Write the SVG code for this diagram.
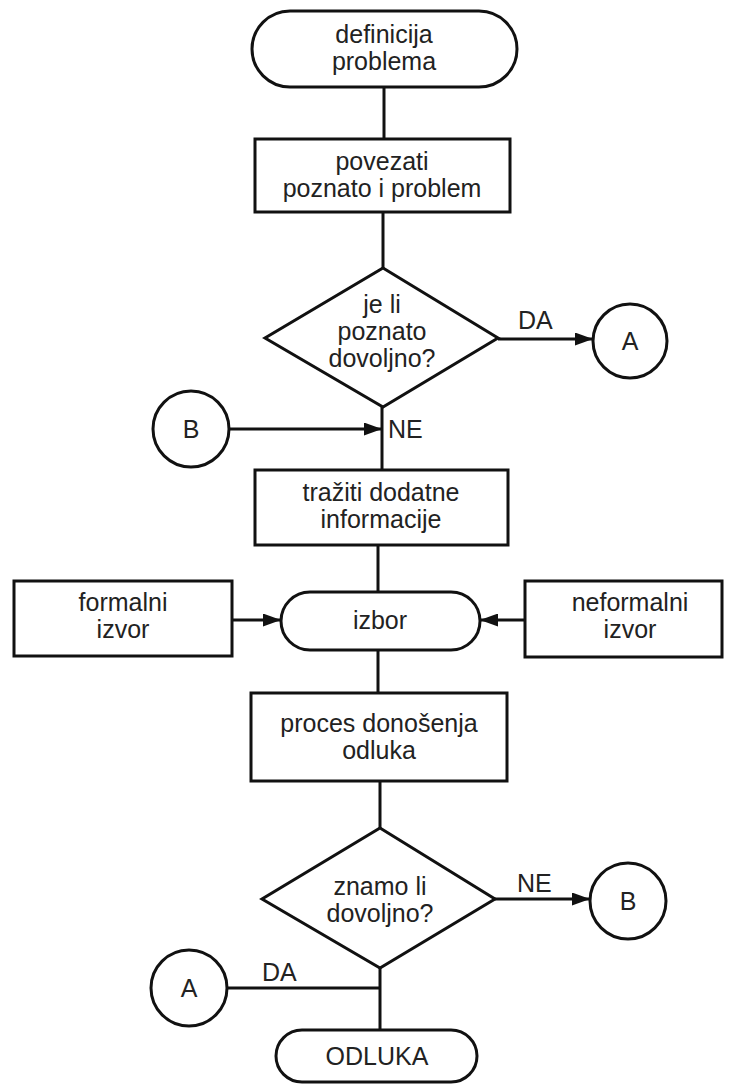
<svg xmlns="http://www.w3.org/2000/svg" width="731" height="1086" viewBox="0 0 731 1086">
<style>
.s{fill:#fff;stroke:#111;stroke-width:3}
.c{fill:none;stroke:#111;stroke-width:3}
text{font-family:"Liberation Sans",Arial,sans-serif;font-size:25px;fill:#222;text-anchor:middle}
.l{text-anchor:start}
</style>
<defs>
<marker id="ar" viewBox="0 0 18 13" refX="18" refY="6.5" markerWidth="18" markerHeight="13" markerUnits="userSpaceOnUse" orient="auto">
<path d="M0,0 L18,6.5 L0,13 Z" fill="#111"/>
</marker>
</defs>
<rect width="731" height="1086" fill="#fff"/>
<g id="connectors">
<line class="c" x1="384" y1="87" x2="384" y2="139"/>
<line class="c" x1="383" y1="212" x2="383" y2="268"/>
<line class="c" x1="498" y1="339" x2="593" y2="339" marker-end="url(#ar)"/>
<line class="c" x1="382" y1="407" x2="382" y2="470"/>
<line class="c" x1="229" y1="429" x2="382" y2="429" marker-end="url(#ar)"/>
<line class="c" x1="378" y1="545" x2="378" y2="592"/>
<line class="c" x1="232" y1="620" x2="281" y2="620" marker-end="url(#ar)"/>
<line class="c" x1="525" y1="620" x2="480" y2="620" marker-end="url(#ar)"/>
<line class="c" x1="378" y1="650" x2="378" y2="693"/>
<line class="c" x1="380" y1="781" x2="380" y2="828"/>
<line class="c" x1="495" y1="899" x2="590" y2="899" marker-end="url(#ar)"/>
<line class="c" x1="380" y1="968" x2="380" y2="1030"/>
<line class="c" x1="227" y1="988" x2="380" y2="988"/>
<text class="l" x="518" y="329">DA</text>
<text class="l" x="388" y="438">NE</text>
<text class="l" x="517" y="892">NE</text>
<text class="l" x="262" y="981">DA</text>
</g>
<g id="start">
<rect class="s" x="252" y="11" width="265" height="76" rx="38"/>
<text x="384" y="43">definicija</text>
<text x="384" y="70">problema</text>
</g>
<g id="povezati">
<rect class="s" x="255" y="139" width="255" height="73"/>
<text x="382" y="170">povezati</text>
<text x="382" y="197">poznato i problem</text>
</g>
<g id="dec1">
<polygon class="s" points="383,268 498,338 383,407 265,338"/>
<text x="382" y="313">je li</text>
<text x="382" y="340">poznato</text>
<text x="382" y="367">dovoljno?</text>
</g>
<g id="connA1">
<circle class="s" cx="630" cy="341" r="37"/>
<text x="630" y="350">A</text>
</g>
<g id="connB1">
<circle class="s" cx="191" cy="429" r="38"/>
<text x="191" y="438">B</text>
</g>
<g id="trazit">
<rect class="s" x="255" y="470" width="253" height="75"/>
<text x="381" y="501">tražiti dodatne</text>
<text x="381" y="528">informacije</text>
</g>
<g id="formalni">
<rect class="s" x="14" y="581" width="218" height="75"/>
<text x="123" y="611">formalni</text>
<text x="123" y="638">izvor</text>
</g>
<g id="izbor">
<rect class="s" x="281" y="592" width="199" height="58" rx="29"/>
<text x="380" y="629">izbor</text>
</g>
<g id="neformalni">
<rect class="s" x="525" y="581" width="197" height="76"/>
<text x="630" y="611">neformalni</text>
<text x="630" y="638">izvor</text>
</g>
<g id="proces">
<rect class="s" x="251" y="693" width="256" height="88"/>
<text x="379" y="732">proces donošenja</text>
<text x="379" y="759">odluka</text>
</g>
<g id="dec2">
<polygon class="s" points="380,828 495,899 380,968 262,899"/>
<text x="380" y="895">znamo li</text>
<text x="380" y="922">dovoljno?</text>
</g>
<g id="connB2">
<circle class="s" cx="628" cy="901" r="38"/>
<text x="628" y="910">B</text>
</g>
<g id="connA2">
<circle class="s" cx="189" cy="988" r="38"/>
<text x="189" y="997">A</text>
</g>
<g id="odluka">
<rect class="s" x="276" y="1030" width="201" height="52" rx="26"/>
<text x="377" y="1065">ODLUKA</text>
</g>
</svg>
